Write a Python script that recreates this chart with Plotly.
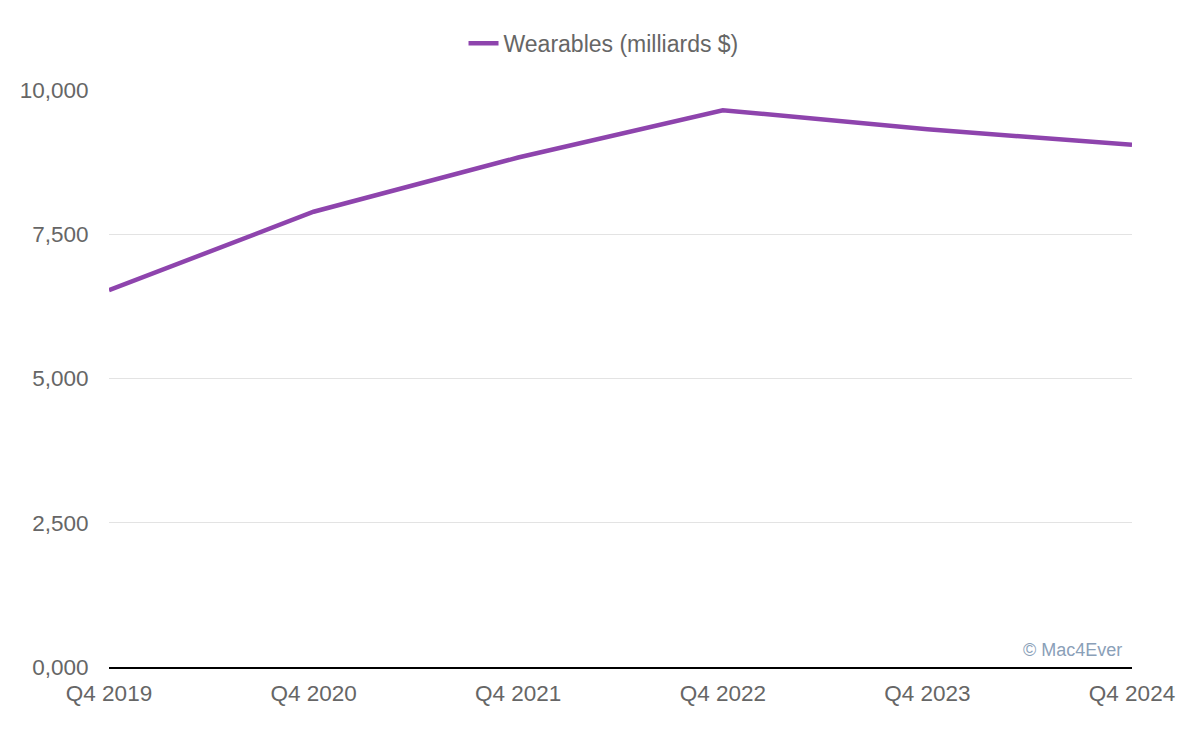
import plotly.graph_objects as go

quarters = ["Q4 2019", "Q4 2020", "Q4 2021", "Q4 2022", "Q4 2023", "Q4 2024"]
wearables = [6530, 7890, 8830, 9650, 9320, 9050]
y_tick_vals = [0, 2500, 5000, 7500, 10000]
y_tick_text = ["0,000", "2,500", "5,000", "7,500", "10,000"]

font_family = "Liberation Sans, Arial, Helvetica, sans-serif"

fig = go.Figure()
fig.add_trace(go.Scatter(
    x=quarters, y=wearables, mode="lines",
    name="Wearables (milliards $)",
    line=dict(color="#8e44ad", width=4.5),
))

fig.update_layout(
    width=1200, height=736,
    margin=dict(l=101, r=76, t=82, b=77),
    paper_bgcolor="white", plot_bgcolor="white",
    font=dict(family=font_family, size=22.5, color="#666666"),
    showlegend=True,
    legend=dict(orientation="h", x=0.4834, xanchor="center", y=1.081, yanchor="middle",
                font=dict(size=23, color="#666666")),
    xaxis=dict(type="category", range=[0, 5], showgrid=False, showline=True,
               linecolor="black", linewidth=2, ticks="outside", ticklen=5,
               tickcolor="rgba(0,0,0,0)", tickfont=dict(size=22.5, color="#666666"),
               zeroline=False),
    yaxis=dict(range=[0, 10000], tickvals=y_tick_vals, ticktext=y_tick_text,
               showgrid=True, gridcolor="#e3e3e3", gridwidth=1, zeroline=False,
               showline=False, ticks="outside", ticklen=15, tickcolor="rgba(0,0,0,0)",
               tickfont=dict(size=22.5, color="#666666")),
    annotations=[dict(
        text="© Mac4Ever", xref="paper", yref="paper", x=1, y=0.029,
        xanchor="right", yanchor="middle", xshift=-8, showarrow=False,
        font=dict(family=font_family, size=18, color="#8aa0b8"),
    )],
)

fig.write_html("out.html")
